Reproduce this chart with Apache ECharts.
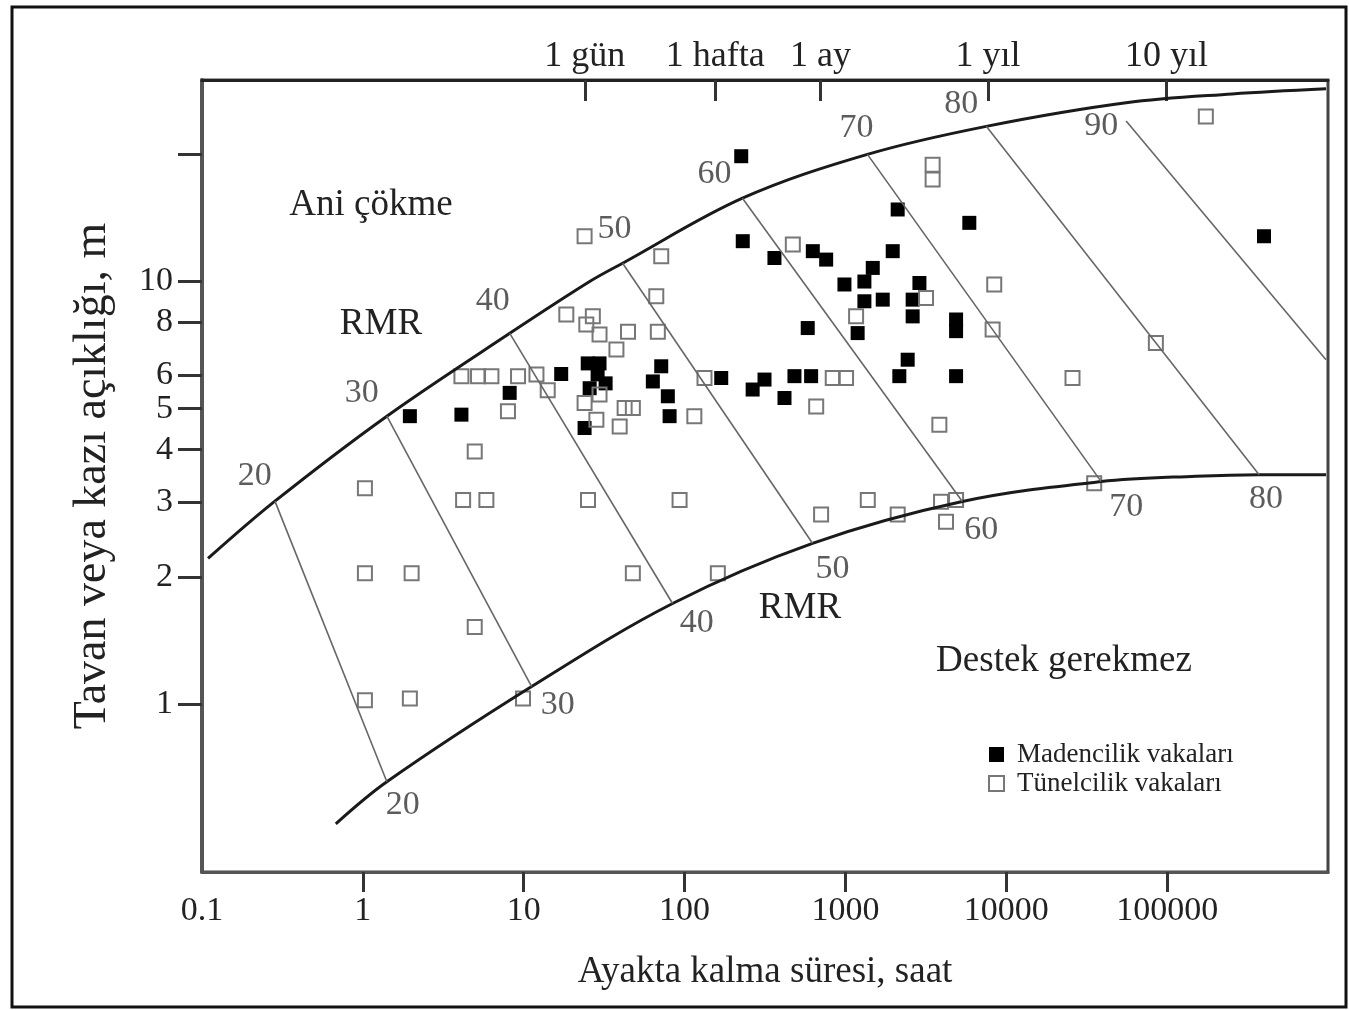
<!DOCTYPE html>
<html>
<head>
<meta charset="utf-8">
<script src="https://cdn.jsdelivr.net/npm/echarts@6.0.0/dist/echarts.min.js"></script>
<style>
  html, body { margin: 0; padding: 0; background: #fff; }
  #chart { width: 1349px; height: 1010px; }
</style>
</head>
<body>
<div id="chart"></div>
<script>
// eksen etiketleri
var xTickValues = [1, 10, 100, 1000, 10000, 100000];
var xLabelValues = [0.1, 1, 10, 100, 1000, 10000, 100000];
var yTickValues = [1, 2, 3, 4, 5, 6, 8, 10, 20];
var yLabelValues = [1, 2, 3, 4, 5, 6, 8, 10];
// ust eksen: zaman (saat)
var timeTickValues = [24, 155, 700, 7700, 99000];
var timeTickNames = ['1 gün', '1 hafta', '1 ay', '1 yıl', '10 yıl'];

// sinir egrileri [saat, m]
var upperCurve = [[0.109, 2.21], [0.284, 3.02], [1.41, 4.80], [8.19, 7.54], [25.7, 10.0], [41.2, 11.05],
  [229, 15.75], [1370, 20.0], [7510, 23.3], [55600, 26.5], [253000, 27.8], [972000, 28.6]];
var lowerCurve = [[0.679, 0.520], [1.41, 0.654], [11.2, 1.099], [84.2, 1.729], [624, 2.40],
  [5330, 3.015], [38900, 3.36], [151000, 3.46], [373000, 3.49], [972000, 3.49]];

// RMR cizgileri
var rmrValues = [20, 30, 40, 50, 60, 70, 80, 90];
var rmrTop = [[0.284, 3.02], [1.41, 4.80], [8.19, 7.54], [41.2, 11.05], [229, 15.75], [1370, 20.0], [7510, 23.3], [55600, 24.0]];
var rmrBottom = [[1.41, 0.654], [11.2, 1.099], [84.2, 1.729], [624, 2.40], [5330, 3.015], [38900, 3.36], [373000, 3.49], [972000, 6.53]];
var rmrTopLabels = [[0.213, 3.46], [0.986, 5.44], [6.42, 8.98], [36.7, 13.3], [153.6, 17.96], [1170, 23.1], [5250, 26.3], [38900, 23.3]];
var rmrBottomLabels = [[1.77, 0.577], [16.3, 0.996], [119, 1.55], [830, 2.09], [7000, 2.575], [55600, 2.93], [412000, 3.05]];

// Madencilik vakalari (dolu kare)
var miningCases = [
  [1.96, 4.80], [4.10, 4.84], [8.18, 5.45], [17.1, 6.04], [25.0, 6.40], [29.6, 6.40], [28.8, 6.03],
  [32.3, 5.74], [25.7, 5.59], [23.9, 4.50], [71.6, 6.30], [63.5, 5.80], [78.7, 5.35], [80.7, 4.80],
  [169, 5.91], [265, 5.55], [314, 5.86], [418, 5.30], [482, 5.97], [612, 5.97], [583, 7.76],
  [225, 19.8], [230, 12.46], [362, 11.37], [627, 11.80], [759, 11.27], [986, 9.84], [1312, 10.0],
  [1479, 10.77], [1968, 11.80], [2113, 14.81], [1312, 8.98], [1706, 9.06], [1191, 7.55], [2618, 9.06],
  [2618, 8.27], [2884, 9.92], [2438, 6.53], [2163, 5.97], [4874, 8.13], [4874, 7.63], [4874, 5.97],
  [5890, 13.77], [400000, 12.80]
];
// Tunelcilik vakalari (bos kare)
var tunnelCases = [
  [1.03, 3.24], [1.03, 2.04], [2.01, 2.04], [1.03, 1.02], [1.96, 1.03], [4.96, 1.52], [9.9, 1.03],
  [4.96, 3.96], [4.20, 3.04], [5.86, 3.04], [4.10, 5.97], [5.20, 5.97], [6.30, 5.97], [9.22, 5.97],
  [12.0, 6.02], [14.1, 5.53], [7.98, 4.93], [18.4, 8.35], [26.9, 8.27], [24.5, 7.91], [29.6, 7.49],
  [44.5, 7.60], [68.2, 7.60], [37.7, 6.90], [66.7, 9.23], [23.9, 12.80], [71.6, 11.48], [23.9, 5.16],
  [29.6, 5.40], [28.3, 4.71], [42.4, 5.02], [47.7, 5.02], [39.5, 4.54], [115, 4.80], [133, 5.91],
  [25.1, 3.04], [93.1, 3.04], [47.7, 2.04], [161, 2.04], [471, 12.24], [1165, 8.27], [3170, 9.14],
  [834, 5.91], [1009, 5.91], [658, 5.06], [706, 2.81], [1377, 3.04], [2113, 2.81], [3930, 3.01],
  [4874, 3.04], [4220, 2.70], [3837, 4.58], [3484, 18.9], [3484, 17.45], [8415, 9.84], [8222, 7.70],
  [25800, 5.91], [85100, 7.15], [35200, 3.33], [174000, 24.6]
];

var serif = '"Liberation Serif", "DejaVu Serif", serif';
var myChart = echarts.init(document.getElementById('chart'), null, { renderer: 'canvas' });

function logLabel(v) {
  return v < 1 ? String(+v.toPrecision(1)) : String(Math.round(v));
}
function timeLabel(v) {
  var best = 0;
  for (var i = 1; i < timeTickValues.length; i++) {
    if (Math.abs(Math.log(timeTickValues[i] / v)) < Math.abs(Math.log(timeTickValues[best] / v))) best = i;
  }
  return timeTickNames[best];
}

var series = [];
series.push({
  type: 'line', data: upperCurve, smooth: 0.35, symbol: 'none',
  lineStyle: { color: '#1a1a1a', width: 3 }, silent: true
});
series.push({
  type: 'line', data: lowerCurve, smooth: 0.35, symbol: 'none',
  lineStyle: { color: '#1a1a1a', width: 3 }, silent: true
});
for (var i = 0; i < rmrValues.length; i++) {
  series.push({
    type: 'line', data: [rmrTop[i], rmrBottom[i]], symbol: 'none',
    lineStyle: { color: '#666', width: 1.6 }, silent: true
  });
}
// RMR sayilari
series.push({
  type: 'scatter', symbolSize: 0, silent: true,
  data: rmrTopLabels.map(function (p, i) { return { value: p, name: String(rmrValues[i]) }; })
    .concat(rmrBottomLabels.map(function (p, i) { return { value: p, name: String(rmrValues[i]) }; })),
  label: {
    show: true, position: 'inside', formatter: '{b}',
    fontFamily: serif, fontSize: 34, color: '#333'
  }
});
series.push({
  name: 'Madencilik vakaları', type: 'scatter', symbol: 'rect', symbolSize: 14,
  data: miningCases, itemStyle: { color: '#000', opacity: 1 }
});
series.push({
  name: 'Tünelcilik vakaları', type: 'scatter', symbol: 'rect', symbolSize: 14,
  data: tunnelCases,
  itemStyle: { color: 'rgba(255,255,255,0)', borderColor: '#777', borderWidth: 2, opacity: 1 }
});

var option = {
  animation: false,
  backgroundColor: '#fff',
  grid: { left: 202, top: 80, right: 21, bottom: 138, show: true, borderColor: '#444', borderWidth: 3 },
  legend: {
    data: ['Madencilik vakaları', 'Tünelcilik vakaları'],
    orient: 'vertical', left: 983, top: 736,
    itemWidth: 15, itemHeight: 15, itemGap: 2,
    textStyle: { fontFamily: serif, fontSize: 27, color: '#222', padding: [0, 0, 0, 8] }
  },
  xAxis: [{
    type: 'log', logBase: 10, min: 0.1, max: 1e6, position: 'bottom',
    name: 'Ayakta kalma süresi, saat', nameLocation: 'middle', nameGap: 82,
    nameTextStyle: { fontFamily: serif, fontSize: 37, color: '#222' },
    axisLine: { show: true, lineStyle: { color: '#555', width: 3 } },
    axisTick: { show: true, length: 20, customValues: xTickValues, lineStyle: { color: '#333', width: 3 } },
    axisLabel: { customValues: xLabelValues, formatter: logLabel, margin: 22, fontFamily: serif, fontSize: 34, color: '#222' },
    splitLine: { show: false }, minorTick: { show: false }
  }, {
    type: 'log', logBase: 10, min: 0.1, max: 1e6, position: 'top',
    axisLine: { show: true, lineStyle: { color: '#222', width: 3 } },
    axisTick: { show: true, inside: true, length: 21, customValues: timeTickValues, lineStyle: { color: '#333', width: 3 } },
    axisLabel: { customValues: timeTickValues, formatter: timeLabel, margin: 5, fontFamily: serif, fontSize: 36, color: '#222' },
    splitLine: { show: false }, minorTick: { show: false }
  }],
  yAxis: {
    type: 'log', logBase: 10, min: 0.4, max: 30,
    name: 'Tavan veya kazı açıklığı, m', nameLocation: 'middle', nameGap: 86, nameRotate: 90,
    nameTextStyle: { fontFamily: serif, fontSize: 46, color: '#222' },
    axisLine: { show: true, lineStyle: { color: '#555', width: 4 } },
    axisTick: { show: true, length: 24, customValues: yTickValues, lineStyle: { color: '#333', width: 3 } },
    axisLabel: { customValues: yLabelValues, formatter: logLabel, margin: 29, fontFamily: serif, fontSize: 34, color: '#222' },
    splitLine: { show: false }, minorTick: { show: false }
  },
  graphic: [
    { type: 'rect', silent: true, z: -10, shape: { x: 12, y: 7, width: 1334, height: 1000 },
      style: { fill: 'none', stroke: '#111', lineWidth: 3 } },
    { type: 'text', x: 371, y: 205, style: { text: 'Ani çökme', font: '37px ' + serif, fill: '#222', align: 'center', verticalAlign: 'middle' } },
    { type: 'text', x: 381, y: 324, style: { text: 'RMR', font: '37px ' + serif, fill: '#222', align: 'center', verticalAlign: 'middle' } },
    { type: 'text', x: 800, y: 608, style: { text: 'RMR', font: '37px ' + serif, fill: '#222', align: 'center', verticalAlign: 'middle' } },
    { type: 'text', x: 1064, y: 661, style: { text: 'Destek gerekmez', font: '37px ' + serif, fill: '#222', align: 'center', verticalAlign: 'middle' } }
  ],
  series: series
};
myChart.setOption(option);
</script>
</body>
</html>
